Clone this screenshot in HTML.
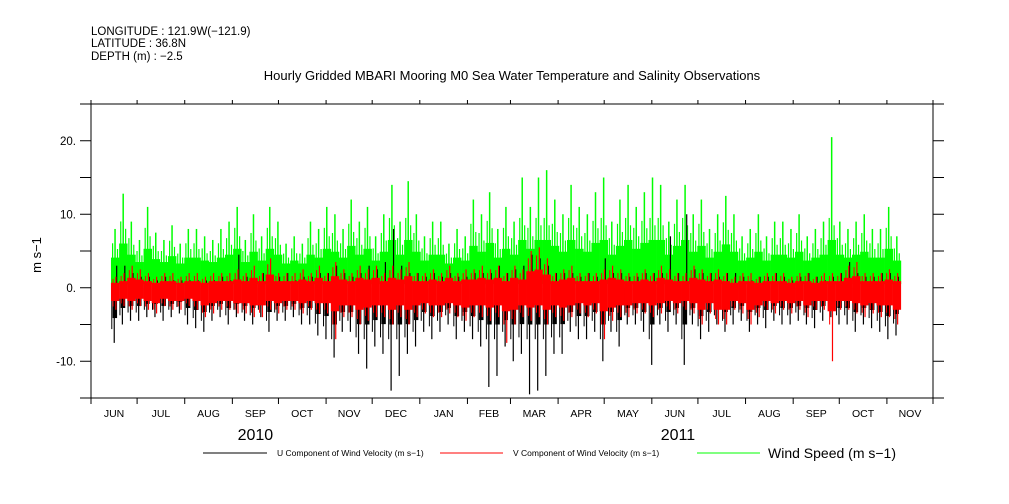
<!DOCTYPE html>
<html><head><meta charset="utf-8"><style>
html,body{margin:0;padding:0;background:#fff;}
svg{display:block;font-family:"Liberation Sans",sans-serif;}
</style></head><body>
<svg id="chart" width="1009" height="504" viewBox="0 0 1009 504">
<g font-size="11.5" fill="#000">
<text x="91" y="35">LONGITUDE : 121.9W(−121.9)</text>
<text x="91" y="47">LATITUDE : 36.8N</text>
<text x="91" y="60">DEPTH (m) : −2.5</text>
</g>
<text x="512" y="80" text-anchor="middle" font-size="13">Hourly Gridded MBARI Mooring M0 Sea Water Temperature and Salinity Observations</text>
<text transform="translate(41,255) rotate(-90)" text-anchor="middle" font-size="13">m s−1</text>
<g id="marks"></g>
<g id="axes"></g>
<g font-size="8.5">
<line x1="203" y1="453" x2="267" y2="453" stroke="#000"/>
<text x="277" y="456">U Component of Wind Velocity (m s−1)</text>
<line x1="440" y1="453" x2="503" y2="453" stroke="#f00"/>
<text x="513" y="456">V Component of Wind Velocity (m s−1)</text>
<line x1="697" y1="453" x2="760" y2="453" stroke="#0f0"/>
<text x="768" y="458" font-size="14">Wind Speed (m s−1)</text>
</g>
</svg>
<script>
const windPeak=[8,12.8,9,6.5, 11,7.5,6.5,8.5,6,8, 8,7,6.5,8,9,11, 6.5,10,7,11,9,6, 7,6,9,8,11,10, 8,12,9,11,7,10, 14,9,14.5,10,7,9, 9,6,8,7,12,10, 13,8,11,9,15,11, 15,16,12,10,14,11, 10,13,15,9,12,14, 11,13,15,14,9,12, 14,10,12,8,10,12.5, 10,7,8,10,7,9, 9,8,10,7,8,9, 20.5,9,8,9,10,8, 8,11,7];
const vMax=[1.5,2,3,2.5, 2,1.5,2,2,1.5,2, 2,1.5,2,2,2,2.5, 2,3,2,4,2,2, 2,2.5,2,3,2,3.5, 2.5,2,3,2.5,3,2, 3,2.5,3.5,2,2,2.5, 2,3,2,2.5,2.5,3, 2.5,3,2,3,2.5,5, 5.5,4,2,2.5,3,2, 2,2,2.5,3,2.5,2, 2,2.5,2,3,2.5,2, 2,3,2.5,2,2.5,2, 1.5,2,2,1.5,2,2, 2,1.5,2,2,1.5,2, 2,2,3,3.5,2,2, 2,2.5,2];
const vMin=[-3,-2.5,-3,-2.5, -3,-3.5,-2.5,-3,-3,-2.5, -3,-4,-3.5,-3,-3,-3.5, -3.5,-4,-4,-3,-3.5,-3, -3,-3.5,-3,-3.5,-3.5,-7, -4,-4,-5,-4.5,-4,-4, -5,-4,-5,-4,-3.5,-4, -4,-3.5,-4,-4.5,-4,-4, -4.5,-4,-7.5,-5,-4,-4.5, -4,-5,-4,-4.5,-4,-3.5, -4,-3.5,-7,-4.5,-4,-4, -3.5,-3.5,-4,-3.5,-3,-3.5, -3,-3.5,-5,-3.5,-5,-5, -3,-3.5,-5,-4,-3,-3.5, -3,-3.5,-3,-4,-3,-3, -10,-3,-3,-3.5,-4,-3.5, -4,-4,-5];
const uMin=[-7.5,-5,-4.5,-4.5, -4,-4,-4.5,-4,-3.5,-5, -5.5,-6,-4.5,-4,-5,-4, -4.5,-5,-4,-6,-4.5,-4.5, -4,-5,-5,-6.5,-7,-9.5, -6,-6,-9,-11,-8,-9, -14,-12,-9,-8,-6,-7, -6,-5,-7,-6,-7,-8, -13.5,-12,-8,-10,-9,-14.5, -14,-12,-9,-9,-6,-7, -7,-6,-10,-6,-8,-5, -5,-6,-10.5,-5,-6,-5, -10.5,-5,-7,-6,-5,-6, -5,-4.5,-6,-5,-5.5,-4.5, -5,-5,-4.5,-5,-5.5,-4.5, -4,-5,-5,-6,-5,-5.5, -6,-7,-6.5];
const uMax=[3,3,2,1.5, 1.5,1,1.5,1,1,1, 1,1,1,1.5,1,4.5, 1.5,1,2,1.5,1.5,2, 1,1.5,1.5,2,2,3, 2,1.5,2,3,2.5,3.5, 8,3,2,2,1.5,2, 1.5,2,1.5,1.5,2,2, 2,3,2,2.5,3,4.5, 4,3,2,2,2,1.5, 2,1.5,4,2,2,1.5, 1.5,2,2,2,7,2, 10,2.5,2,2,1.5,2, 2,1.5,1,1.5,1.5,2, 1.5,1,1.5,2,1.5,1, 1.5,2,3.5,2,1.5,1.5, 2,2,1.5];
const yTicks=[-10,0,10,20];
const yTickLabels=["-10.","0.","10.","20."];
const months=["JUN","JUL","AUG","SEP","OCT","NOV","DEC","JAN","FEB","MAR","APR","MAY","JUN","JUL","AUG","SEP","OCT","NOV"];
const monthStartDays=[0,30,61,92,122,153,183,214,245,273,304,334,365,395,426,457,487,518,548];
const years=["2010","2011"];
const yearDays=[107,382];
const startDay=13, binDays=5.3;

const NS="http://www.w3.org/2000/svg";
const X0=91,X1=933,Y0=398,Y1=104,DAYS=548;
const xs=d=>X0+d*(X1-X0)/DAYS;
const ys=v=>Y0-(v+15)*(Y0-Y1)/40;
function mk(tag,attrs,parent){const e=document.createElementNS(NS,tag);for(const k in attrs)e.setAttribute(k,attrs[k]);parent.appendChild(e);return e;}
const marks=document.getElementById('marks'), axes=document.getElementById('axes');
const bw=xs(binDays)-xs(0);
function vline(g,x,a,b,c,w){return mk('line',{x1:x,x2:x,y1:ys(a),y2:ys(b),stroke:c,'stroke-width':w},g);}
const gG=mk('g',{},marks);
const gU=mk('g',{},marks);
const gV=mk('g',{},marks);
windPeak.forEach((p,i)=>{
  const x=xs(startDay+i*binDays);
  const fill=Math.min(0.4*p+0.9,6.5);
  const r=mk('rect',{x:x,y:ys(fill),width:bw+0.3,height:ys(0.5)-ys(fill),fill:'#0f0'},gG);
  
  
  vline(gG,x+bw*0.5,0.5,p,'#0f0',1.5);
  vline(gG,x+bw*0.2,0.5,Math.min((p+fill)/2,fill+3),'#0f0',1.2);
  vline(gG,x+bw*0.8,0.5,Math.min(p*0.3+fill*0.7,fill+2),'#0f0',1.2);
});
uMin.forEach((m,i)=>{
  const x=xs(startDay+i*binDays);
  const r=mk('rect',{x:x+bw*0.2,y:ys(0),width:bw*0.55,height:ys(Math.max(m*0.55,-5))-ys(0),fill:'#000'},gU);
  
  
  vline(gU,x+bw*0.4,0,m,'#000',1.2);
  vline(gU,x+bw*0.7,uMax[i],0,'#000',1.2);
  vline(gU,x+bw*0.1,0,Math.max(m*0.75,-7),'#000',1);
});
vMin.forEach((m,i)=>{
  const x=xs(startDay+i*binDays);
  const top=vMax[i]*0.45, bot=Math.max(m*0.6,-3.2);
  const r=mk('rect',{x:x,y:ys(top),width:bw+0.2,height:ys(bot)-ys(top),fill:'#f00'},gV);
  
  
  vline(gV,x+bw*0.6,m,vMax[i],'#f00',1.2);
  vline(gV,x+bw*0.25,Math.max(m*0.85,-5),vMax[i]*0.8,'#f00',1);
});
mk('line',{x1:X0,x2:X0,y1:Y1,y2:Y0,stroke:'#000'},axes);
mk('line',{x1:X1,x2:X1,y1:Y1,y2:Y0,stroke:'#000'},axes);
mk('line',{x1:80,x2:944,y1:Y1,y2:Y1,stroke:'#000'},axes);
mk('line',{x1:80,x2:944,y1:Y0,y2:Y0,stroke:'#000'},axes);
for(let v=-15;v<=25;v+=5){
  mk('line',{x1:80,x2:X0,y1:ys(v),y2:ys(v),stroke:'#000'},axes);
  mk('line',{x1:X1,x2:944,y1:ys(v),y2:ys(v),stroke:'#000'},axes);
}
yTicks.forEach((v,i)=>{
  const t=mk('text',{x:76,y:ys(v)+4,'text-anchor':'end','font-size':'11.5'},axes);
  t.textContent=yTickLabels[i];
  
  
});
monthStartDays.forEach((d,i)=>{
  const x=xs(d);
  mk('line',{x1:x,x2:x,y1:Y1-4,y2:Y1,stroke:'#000'},axes);
  mk('line',{x1:x,x2:x,y1:Y0,y2:Y0+6,stroke:'#000'},axes);
  if(i<months.length){
    const t=mk('text',{x:(xs(d)+xs(monthStartDays[i+1]))/2,y:417,'text-anchor':'middle','font-size':'10.5'},axes);
    t.textContent=months[i];
    
    
  }
});
years.forEach((y,i)=>{
  const t=mk('text',{x:xs(yearDays[i]),y:440,'text-anchor':'middle','font-size':'16'},axes);
  t.textContent=y;
  
  
});
</script>
</body></html>
